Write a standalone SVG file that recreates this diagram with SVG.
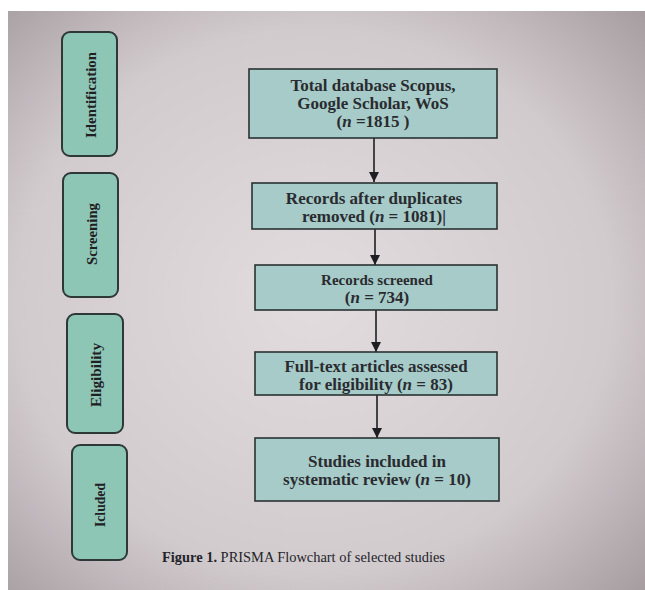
<svg xmlns="http://www.w3.org/2000/svg" width="645" height="590" viewBox="0 0 645 590">
<defs>
<radialGradient id="bg" cx="0.48" cy="0.5" r="0.78">
<stop offset="0" stop-color="#e2dcde"/>
<stop offset="0.6" stop-color="#d2cbce"/>
<stop offset="1" stop-color="#9c9296"/>
</radialGradient>
<marker id="ah" viewBox="0 0 10 10" refX="10" refY="5" markerWidth="10" markerHeight="10" markerUnits="userSpaceOnUse" orient="auto">
<path d="M0,0 L10,5 L0,10 z" fill="#1e1e22"/>
</marker>
<style>
.stage{fill:#8ec6b6;stroke:#2e3836;stroke-width:2}
.box{fill:#a6cbc8;stroke:#2a3232;stroke-width:1.6}
.lbl{font-family:"Liberation Serif",serif;font-weight:bold;fill:#1f2024;font-size:15px;text-anchor:middle;dominant-baseline:central}
.t{font-family:"Liberation Serif",serif;font-weight:bold;fill:#2a2b30;font-size:17px;text-anchor:middle}
.s{font-size:15px}
.n{font-style:italic}
.cap{font-family:"Liberation Serif",serif;fill:#23242a;font-size:15px}
</style>
</defs>
<rect x="0" y="0" width="645" height="590" fill="#ffffff"/>
<rect x="8" y="11" width="637" height="579" fill="url(#bg)"/>

<g id="identification">
<rect class="stage" x="62" y="32" width="55" height="124" rx="8"/>
<text class="lbl" transform="translate(91,95) rotate(-90)" textLength="86" lengthAdjust="spacingAndGlyphs">Identification</text>
</g>
<g id="screening">
<rect class="stage" x="63" y="173" width="55" height="124" rx="8"/>
<text class="lbl" transform="translate(92,234) rotate(-90)" textLength="62" lengthAdjust="spacingAndGlyphs">Screening</text>
</g>
<g id="eligibility">
<rect class="stage" x="67" y="314" width="56" height="119" rx="8"/>
<text class="lbl" transform="translate(96,375) rotate(-90)" textLength="64" lengthAdjust="spacingAndGlyphs">Eligibility</text>
</g>
<g id="included">
<rect class="stage" x="72" y="445" width="55" height="115" rx="8"/>
<text class="lbl" transform="translate(100,505) rotate(-90)" textLength="44" lengthAdjust="spacingAndGlyphs">Icluded</text>
</g>

<g id="connectors" stroke="#1e1e22" stroke-width="1.6" fill="none">
<line x1="374" y1="138" x2="374" y2="182" marker-end="url(#ah)"/>
<line x1="375" y1="229" x2="375" y2="265" marker-end="url(#ah)"/>
<line x1="376" y1="310" x2="376" y2="352" marker-end="url(#ah)"/>
<line x1="377" y1="395" x2="377" y2="438" marker-end="url(#ah)"/>
</g>

<g id="total">
<rect class="box" x="249" y="69" width="248" height="69"/>
<text class="t" x="373" y="91">Total database Scopus,</text>
<text class="t" x="373" y="109">Google Scholar, WoS</text>
<text class="t" x="373" y="127">(<tspan class="n">n</tspan> =1815 )</text>
</g>
<g id="duplicates">
<rect class="box" x="252" y="183" width="245" height="46"/>
<text class="t" x="374" y="204">Records after duplicates</text>
<text class="t" x="374" y="222">removed (<tspan class="n">n</tspan> = 1081)|</text>
</g>
<g id="screened">
<rect class="box" x="255" y="265" width="242" height="45"/>
<text class="t s" x="377" y="285">Records screened</text>
<text class="t" x="377" y="303">(<tspan class="n">n</tspan> = 734)</text>
</g>
<g id="fulltext">
<rect class="box" x="255" y="352" width="242" height="43"/>
<text class="t" x="376" y="372">Full-text articles assessed</text>
<text class="t" x="376" y="390">for eligibility (<tspan class="n">n</tspan> = 83)</text>
</g>
<g id="studies">
<rect class="box" x="255" y="438" width="244" height="63"/>
<text class="t" x="377" y="467">Studies included in</text>
<text class="t" x="377" y="485">systematic review (<tspan class="n">n</tspan> = 10)</text>
</g>

<text class="cap" x="162" y="562" textLength="283" lengthAdjust="spacingAndGlyphs"><tspan font-weight="bold">Figure 1.</tspan> PRISMA Flowchart of selected studies</text>
</svg>
